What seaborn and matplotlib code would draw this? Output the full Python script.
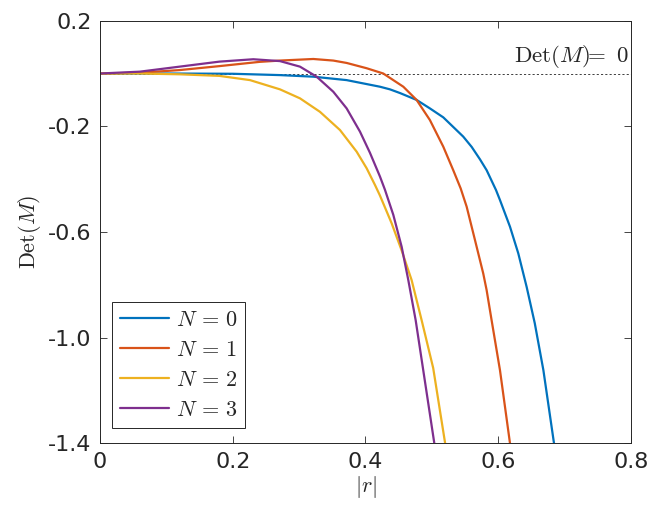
import matplotlib
matplotlib.use('Agg')
import matplotlib.pyplot as plt
import seaborn as sns
import pandas as pd

# values
x_n0 = [0, 0.10, 0.20, 0.2712, 0.3214, 0.3716, 0.4218, 0.4369, 0.452, 0.477, 0.497, 0.5172,
        0.5473, 0.560, 0.5725, 0.5825, 0.5966, 0.6026, 0.6177, 0.6302, 0.6428, 0.655, 0.668, 0.684]
y_n0 = [0, 0, -0.001, -0.006, -0.012, -0.025, -0.050, -0.060, -0.074, -0.100, -0.132, -0.166,
        -0.239, -0.278, -0.325, -0.366, -0.441, -0.479, -0.580, -0.681, -0.808, -0.945, -1.123, -1.40]

x_n1 = [0, 0.06, 0.12, 0.18, 0.24, 0.2712, 0.3214, 0.3515, 0.3716, 0.4017, 0.4268, 0.457,
        0.477, 0.497, 0.5172, 0.5322, 0.5434, 0.5524, 0.565, 0.5774, 0.5825, 0.59, 0.6026, 0.6177]
y_n1 = [0, 0.003, 0.013, 0.028, 0.044, 0.049, 0.055, 0.049, 0.040, 0.020, 0, -0.050,
        -0.100, -0.176, -0.277, -0.366, -0.435, -0.504, -0.631, -0.757, -0.820, -0.934, -1.123, -1.40]

x_n2 = [0, 0.06, 0.12, 0.18, 0.226, 0.2712, 0.3013, 0.3314, 0.3616, 0.3867, 0.4018, 0.4143,
        0.4218, 0.4394, 0.4545, 0.4695, 0.4846, 0.502, 0.520]
y_n2 = [0, 0, -0.003, -0.009, -0.025, -0.060, -0.094, -0.145, -0.214, -0.296, -0.359, -0.422,
        -0.462, -0.567, -0.670, -0.782, -0.934, -1.115, -1.40]

x_n3 = [0, 0.06, 0.12, 0.18, 0.231, 0.2712, 0.3013, 0.3264, 0.3515, 0.3716, 0.3917, 0.4067,
        0.4218, 0.4293, 0.4419, 0.4545, 0.4645, 0.4756, 0.487, 0.5037]
y_n3 = [0, 0.007, 0.026, 0.045, 0.054, 0.047, 0.026, -0.012, -0.069, -0.132, -0.220, -0.300,
        -0.390, -0.440, -0.535, -0.656, -0.782, -0.934, -1.123, -1.40]

labels = [r'$N\,=\,0$', r'$N\,=\,1$', r'$N\,=\,2$', r'$N\,=\,3$']
colors = ['#0072BD', '#D95319', '#EDB120', '#7E2F8E']

x_ticks = [0, 0.2, 0.4, 0.6, 0.8]
x_ticklabels = ['0', '0.2', '0.4', '0.6', '0.8']
y_ticks = [0.2, -0.2, -0.6, -1.0, -1.4]
y_ticklabels = ['0.2', '-0.2', '-0.6', '-1.0', '-1.4']


def build_frame():
    parts = []
    for xs, ys, lab in zip([x_n0, x_n1, x_n2, x_n3], [y_n0, y_n1, y_n2, y_n3], labels):
        parts.append(pd.DataFrame({'r': xs, 'det': ys, 'N': lab}))
    return pd.concat(parts, ignore_index=True)


def main():
    sns.set_style('ticks')
    plt.rcParams['font.family'] = ['DejaVu Sans']
    plt.rcParams['mathtext.fontset'] = 'cm'

    df = build_frame()
    fig = plt.figure(figsize=(6.53, 5.12), dpi=100)
    ax = fig.add_axes([0.1531, 0.1342, 0.8132, 0.8254])

    sns.lineplot(data=df, x='r', y='det', hue='N', palette=colors, sort=False,
                 estimator=None, linewidth=1.6, solid_joinstyle='round', ax=ax)

    ax.plot([0, 0.8], [0, 0], linestyle=(0, (2.2, 2.2)), color='#404040', linewidth=0.7, zorder=1)
    ax.text(0.797, 0.012, r'$\mathrm{Det}(M)\!\!=\ 0$', ha='right', va='bottom',
            fontsize=16.5, color='#262626')

    ax.set_xlim(0, 0.8)
    ax.set_ylim(-1.4, 0.2)
    ax.set_xticks(x_ticks)
    ax.set_xticklabels(x_ticklabels)
    ax.set_yticks(y_ticks)
    ax.set_yticklabels(y_ticklabels)
    ax.tick_params(direction='in', length=5, width=0.6, top=True, right=True,
                   labelsize=16, colors='#262626', pad=6)
    for sp in ax.spines.values():
        sp.set_visible(True)
        sp.set_color('#262626')
        sp.set_linewidth(0.7)

    ax.set_xlabel(r'$|r|$', fontsize=16, color='#262626', labelpad=2)
    ax.set_ylabel(r'$\mathrm{Det}(M)$', fontsize=16, color='#262626', labelpad=4)

    leg = ax.legend(loc='upper left', bbox_to_anchor=(0.023, 0.334), borderaxespad=0,
                    fontsize=16, fancybox=False, framealpha=1, edgecolor='#262626',
                    handlelength=2.2, labelspacing=0.45, handletextpad=0.3,
                    borderpad=0.35, title=None)
    leg.get_frame().set_linewidth(0.7)

    fig.savefig('out.png', dpi=100)


if __name__ == "__main__":
    main()
